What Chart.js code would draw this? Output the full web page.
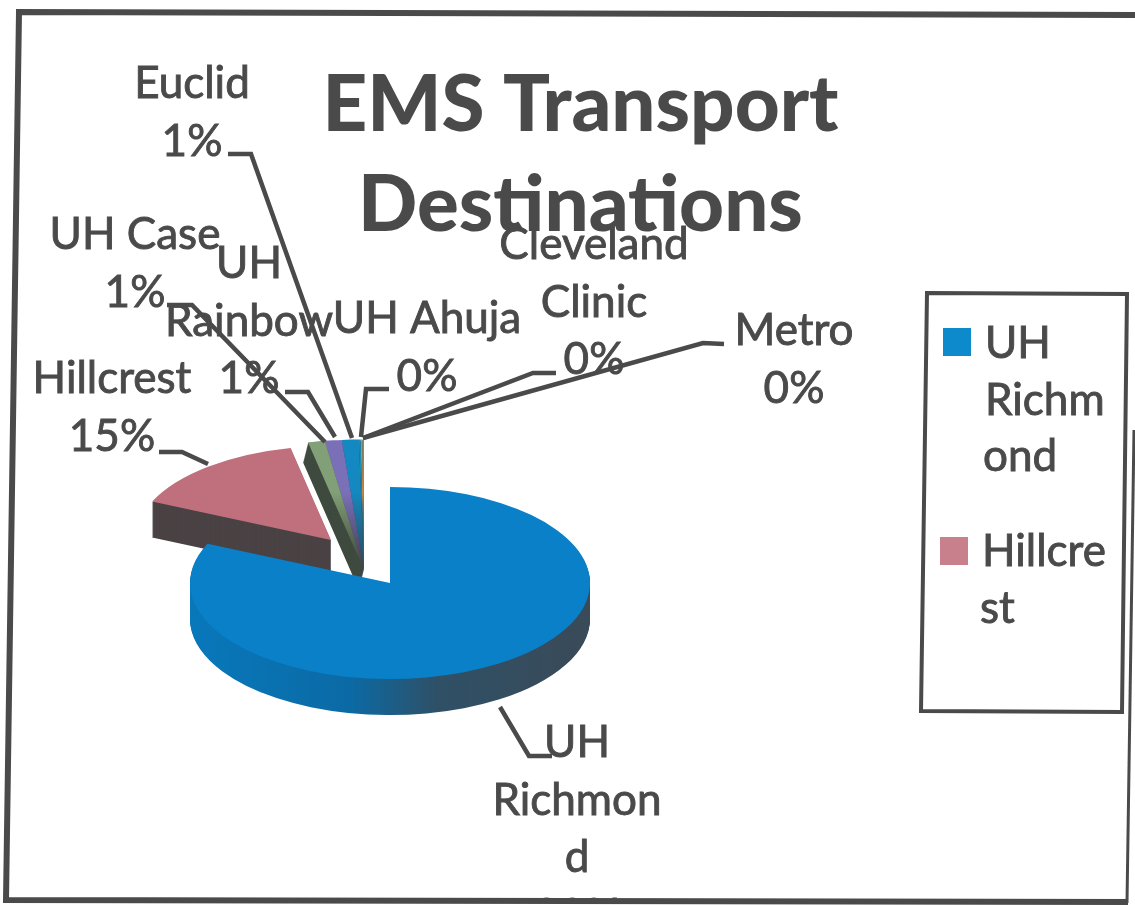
<!DOCTYPE html>
<html>
<head>
<meta charset="utf-8">
<title>EMS Transport Destinations</title>
<script src="https://cdn.jsdelivr.net/npm/chart.js@4/dist/chart.umd.min.js"></script>
<style>
    html, body { margin: 0; padding: 0; background: #fff; overflow: hidden; }
    canvas { display: block; }
</style>
</head>
<body>
<canvas id="pieChart" width="1135" height="905"></canvas>
<script>
'use strict';

// Percent of transports
const categories = ['UH Richmond', 'Hillcrest', 'UH Case', 'UH Rainbow', 'Euclid', 'UH Ahuja', 'Cleveland Clinic', 'Metro'];
const percents = [81.7, 15, 1, 1, 1, 0.1, 0.1, 0.1];
const topColors = ['#0a80c8', '#c0707c', '#82a078', '#7a70b8', '#1488c0', '#1a90b0', '#d08a40', '#5a9a9a'];
const sideColors = ['#0a6399', '#4a4244', '#3f4a3f', '#444058', '#2c4a5c', '#2c4a5c', '#2c4a5c', '#2c4a5c'];
const wrappedNames = [['UH', 'Richmon', 'd'], ['Hillcrest'], ['UH Case'], ['UH', 'Rainbow'], ['Euclid'], ['UH Ahuja'], ['Cleveland', 'Clinic'], ['Metro']];
const legendNames = [['UH', 'Richm', 'ond'], ['Hillcre', 'st']];
const titleLines = ['EMS Transport', 'Destinations'];

// Layout only
const INK = '#4a4a4a';
const LABEL_FONT = '44px Lato';
const PIE_X = 390;
const PIE_Y = 583;
const SQUASH = 0.48;
const DEPTH = 36;
const labelSpots = [[577, 757], [112, 393], [135, 249], [249, 278], [192, 98], [427, 333], [594, 259], [794, 345]];
const leaders = [
    [[552, 756], [529, 756], [500, 707]],
    [[159, 452], [182, 452], [208, 464]],
    [[167, 305], [192, 305], [325, 442]],
    [[285, 392], [308, 392], [335, 437]],
    [[228, 154], [251, 154], [352, 438]],
    [[389, 389], [366, 389], [361, 437]],
    [[556, 373], [533, 373], [363, 438]],
    [[724, 344], [703, 343], [363, 438]]
];
const legendSwatches = [[943, 328], [940, 537]];
const legendText = [[[985, 358], [985, 415], [983, 471]], [[982, 566], [980, 623]]];

function squashedY(screenDy) {
    return PIE_Y + screenDy / SQUASH;
}

// draws one arc with another fill, the element itself stays as the library built it
function drawArc(ctx, el, fill) {
    const saved = el.options;
    el.options = Object.create(saved, { backgroundColor: { value: fill } });
    el.draw(ctx);
    el.options = saved;
}

function withSquash(ctx, dx, dy, fn) {
    ctx.save();
    ctx.translate(dx, PIE_Y + dy);
    ctx.scale(1, SQUASH);
    ctx.translate(0, -PIE_Y);
    fn();
    ctx.restore();
}

// heavier text, the scan thickens everything
function inkText(ctx, line, x, y) {
    ctx.fillText(line, x, y);
    ctx.strokeText(line, x, y);
}

// the picture is a tilted 3D pie: arcs get moved, flattened and extruded
const tiltedPie = {
    id: 'tiltedPie',
    afterDatasetsUpdate(chart) {
        const arcs = chart.getDatasetMeta(0).data;
        arcs.forEach((el, i) => {
            el.x = PIE_X;
            el.y = PIE_Y;
            if (i === 1) {
                el.x = 331;
                el.y = squashedY(540 - PIE_Y);
                el.outerRadius = 196;
            }
            if (i >= 2) {
                el.x = 364;
                el.y = squashedY(570 - PIE_Y);
                el.outerRadius = 272;
            }
        });
    },
    beforeDatasetsDraw(chart) {
        const ctx = chart.ctx;
        const arcs = chart.getDatasetMeta(0).data;

        const sideFill = ctx.createLinearGradient(190, 0, 590, 0);
        sideFill.addColorStop(0, '#0878bb');
        sideFill.addColorStop(0.4, '#0b6aa5');
        sideFill.addColorStop(0.62, '#2f5066');
        sideFill.addColorStop(1, '#3a4a58');

        for (let i = arcs.length - 1; i >= 0; i--) {
            const el = arcs[i];
            const side = i === 0 ? sideFill : sideColors[i];
            const depth = i >= 2 ? 20 : DEPTH;
            const lean = i >= 2 ? -0.25 : 0;
            for (let d = depth; d > 0; d -= 1) {
                withSquash(ctx, d * lean, d, () => drawArc(ctx, el, side));
            }
            withSquash(ctx, 0, 0, () => {
                let fill = topColors[i];
                if (i >= 2) {
                    // thin slices fade to dark at the point
                    const g = ctx.createLinearGradient(0, el.y - el.outerRadius, 0, el.y);
                    g.addColorStop(0, topColors[i]);
                    g.addColorStop(0.4, topColors[i]);
                    g.addColorStop(0.95, sideColors[i]);
                    fill = g;
                }
                drawArc(ctx, el, fill);
            });
        }
        return false;
    }
};

const pieLabels = {
    id: 'pieLabels',
    afterDraw(chart) {
        const ctx = chart.ctx;
        ctx.save();

        ctx.strokeStyle = INK;
        ctx.lineWidth = 4.5;
        ctx.lineJoin = 'miter';
        leaders.forEach(pts => {
            ctx.beginPath();
            pts.forEach((p, i) => (i ? ctx.lineTo(p[0], p[1]) : ctx.moveTo(p[0], p[1])));
            ctx.stroke();
        });

        // bottom of the Richmond label runs off the frame, same as the scan
        ctx.beginPath();
        ctx.rect(0, 0, 1135, 899);
        ctx.clip();

        ctx.fillStyle = INK;
        ctx.lineWidth = 0.9;
        ctx.font = LABEL_FONT;
        ctx.textAlign = 'center';
        ctx.textBaseline = 'alphabetic';
        categories.forEach((name, i) => {
            const lines = wrappedNames[i].concat(Math.round(percents[i]) + '%');
            lines.forEach((line, n) => {
                inkText(ctx, line, labelSpots[i][0], labelSpots[i][1] + n * 57.5);
            });
        });
        ctx.restore();
    }
};

const frameAndLegend = {
    id: 'frameAndLegend',
    afterDraw(chart) {
        const ctx = chart.ctx;
        ctx.save();
        ctx.strokeStyle = INK;

        // scanned page edge, slightly skewed
        ctx.lineWidth = 6;
        ctx.beginPath();
        ctx.moveTo(1135, 15);
        ctx.lineTo(19, 12);
        ctx.lineTo(6, 900);
        ctx.lineTo(1128, 902);
        ctx.stroke();
        ctx.lineWidth = 3;
        ctx.beginPath();
        ctx.moveTo(1134, 430);
        ctx.lineTo(1127, 903);
        ctx.stroke();

        // legend box
        ctx.lineWidth = 4;
        ctx.beginPath();
        ctx.moveTo(927, 293);
        ctx.lineTo(1127, 294);
        ctx.lineTo(1122, 712);
        ctx.lineTo(921, 711);
        ctx.closePath();
        ctx.stroke();

        ctx.font = LABEL_FONT;
        ctx.textAlign = 'left';
        ctx.lineWidth = 0.9;
        ctx.fillStyle = '#0d8acb';
        ctx.fillRect(legendSwatches[0][0], legendSwatches[0][1], 28, 28);
        ctx.fillStyle = '#c8808c';
        ctx.fillRect(legendSwatches[1][0], legendSwatches[1][1], 28, 28);
        ctx.fillStyle = INK;
        legendNames.forEach((lines, i) => {
            lines.forEach((line, n) => {
                inkText(ctx, line, legendText[i][n][0], legendText[i][n][1]);
            });
        });
        ctx.restore();
    }
};

new Chart(document.getElementById('pieChart').getContext('2d'), {
    type: 'pie',
    data: {
        labels: categories,
        datasets: [{
            data: percents,
            backgroundColor: topColors,
            borderWidth: 0,
            radius: 200
        }]
    },
    options: {
        responsive: false,
        animation: false,
        layout: { padding: { left: 26 } },
        plugins: {
            legend: { display: false },
            tooltip: { enabled: false },
            title: {
                display: true,
                text: titleLines,
                color: INK,
                font: { family: 'Lato', size: 78, weight: '900', lineHeight: 1.28 },
                padding: { top: 56, bottom: 0 }
            }
        }
    },
    plugins: [tiltedPie, pieLabels, frameAndLegend]
});
</script>
</body>
</html>
